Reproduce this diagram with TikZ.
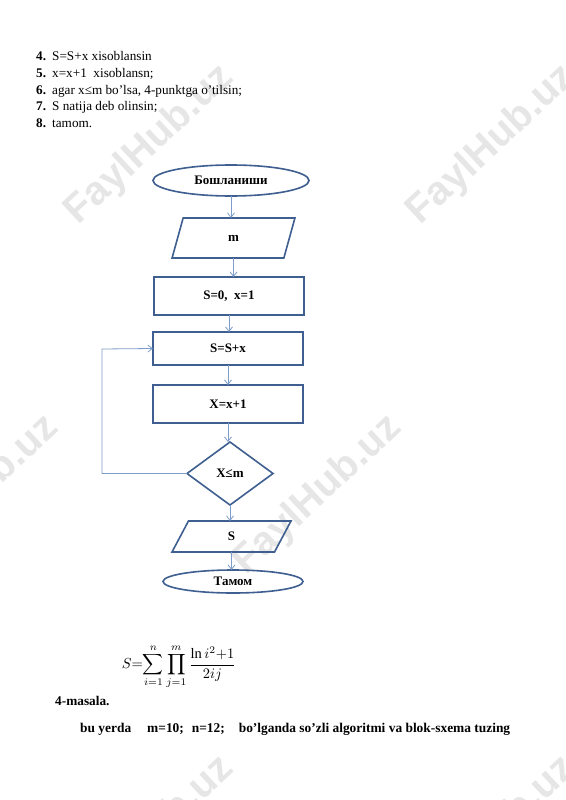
\documentclass[tikz,border=0pt]{standalone}
\usepackage{fontspec}
\setmainfont{Liberation Serif}
\setsansfont{Liberation Sans}
\usetikzlibrary{shapes.geometric,arrows.meta}
\definecolor{shapeblue}{HTML}{3E5F8F}
\definecolor{arrowblue}{HTML}{7F9DCB}
\definecolor{wmgray}{HTML}{E6E6E6}
\begin{document}
\begin{tikzpicture}[x=1pt,y=-1pt,
  shp/.style={draw=shapeblue,line width=1.6pt,inner sep=0pt,outer sep=0pt,font=\fontsize{13}{15}\selectfont\bfseries},
  term/.style={shp,ellipse},
  io/.style={shp,trapezium,trapezium stretches=true},
  proc/.style={shp,rectangle,minimum width=150pt},
  cond/.style={shp,diamond,minimum width=86pt,minimum height=63pt},
  arr/.style={draw=arrowblue,line width=0.8pt,-{Straight Barb[length=4.5pt,width=7pt]}},
  wm/.style={text=wmgray,font=\sffamily\bfseries\fontsize{40}{40}\selectfont,rotate=43,anchor=east,inner sep=0pt},
  txt/.style={anchor=base west,inner sep=0pt,font=\fontsize{13.2}{16}\selectfont}
]
\useasboundingbox[fill=white] (0,0) rectangle (565,800);
% watermarks
\node[wm] (w1) at (228,72) {FaylHub.uz};
\node[wm] (w2) at (570,72) {FaylHub.uz};
\node[wm] (w3) at (53,422) {FaylHub.uz};
\node[wm] (w4) at (396,422) {FaylHub.uz};
\node[wm] (w5) at (228,763) {FaylHub.uz};
\node[wm] (w6) at (570,763) {FaylHub.uz};
% list
\node[txt] (l4) at (36,61) {\makebox[16pt][l]{\textbf{4.}}S=S+x xisoblansin};
\node[txt] (l5) at (36,77.5) {\makebox[16pt][l]{\textbf{5.}}x=x+1\ \ xisoblansn;};
\node[txt] (l6) at (36,94) {\makebox[16pt][l]{\textbf{6.}}agar x≤m bo’lsa, 4-punktga o’tilsin;};
\node[txt] (l7) at (36,110.5) {\makebox[16pt][l]{\textbf{7.}}S natija deb olinsin;};
\node[txt] (l8) at (36,127) {\makebox[16pt][l]{\textbf{8.}}tamom.};
% flowchart
\node[term,minimum width=156pt,minimum height=31pt] (start) at (231,180.5) {Бошланиши};
\node[io,trapezium left angle=79,trapezium right angle=101,minimum width=123pt,minimum height=40pt] (inm) at (233.5,238) {m};
\node[proc,minimum height=38pt] (init) at (229,296) {S=0,\ \ x=1};
\node[proc,minimum height=33pt] (sum) at (228,348.5) {S=S+x};
\node[proc,minimum height=38pt] (inc) at (228,404) {X=x+1};
\node[cond] (cmp) at (230,473.5) {X≤m};
\node[io,trapezium left angle=81,trapezium right angle=99,minimum width=119pt,minimum height=31pt] (outs) at (231.5,536.5) {S};
\node[term,minimum width=140pt,minimum height=23pt] (stop) at (233,581.5) {Тамом};
\draw[arr] (start.south) -- (start.south |- inm.north);
\draw[arr] (inm.south) -- (inm.south |- init.north);
\draw[arr] (init.south) -- (init.south |- sum.north);
\draw[arr] (sum.south) -- (sum.south |- inc.north);
\draw[arr] (inc.south) -- (inc.south |- cmp.north);
\draw[arr] (cmp.south) -- (cmp.south |- outs.north);
\draw[arr] (outs.south) -- (outs.south |- stop.north);
\draw[arr] (cmp.west) -- (102,473.5) -- (102,349) -- (sum.west);
% formula
\node[inner sep=0pt] (formula) at (179,667) {\scalebox{1.45}{$\displaystyle S{=}\!\sum_{i=1}^{n}\prod_{j=1}^{m}\frac{\ln i^{2}{+}1}{2ij}$}};
\node[txt,font=\fontsize{13.3}{16}\selectfont\bfseries] (task) at (55,705) {4-masala.};
\node[txt,font=\fontsize{13.4}{16}\selectfont\bfseries] (cond) at (80,732) {bu yerda\hspace{16pt}m=10;\hspace{8pt}n=12;\hspace{14pt}bo’lganda so’zli algoritmi va blok-sxema tuzing};
\end{tikzpicture}
\end{document}
